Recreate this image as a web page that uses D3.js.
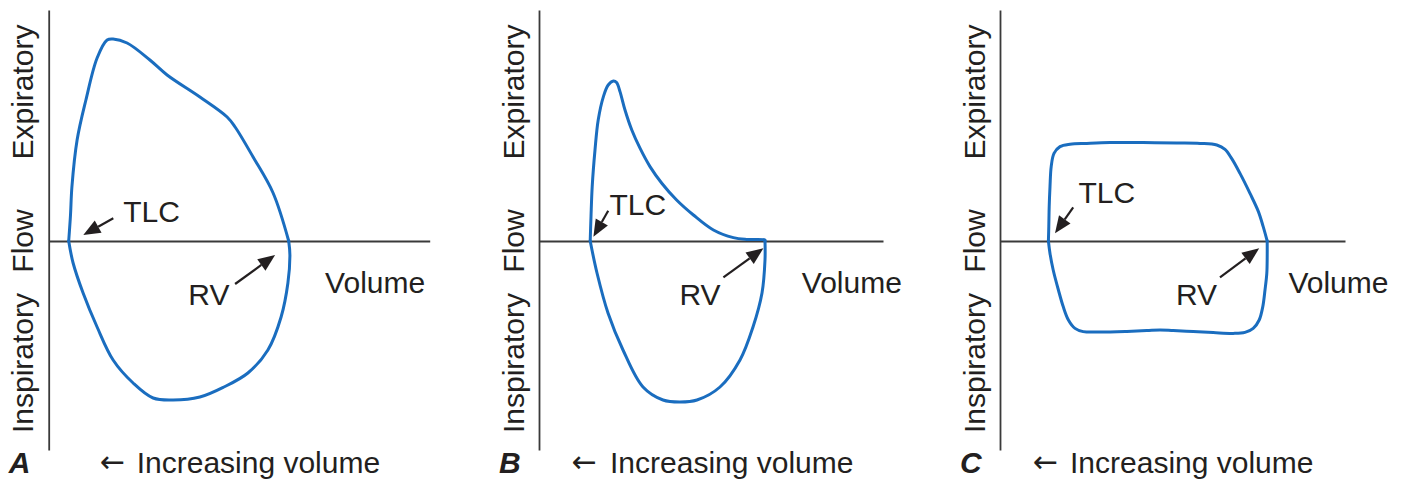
<!DOCTYPE html>
<html>
<head>
<meta charset="utf-8">
<script src="https://cdn.jsdelivr.net/npm/d3@7"></script>
<style>
  html, body { margin: 0; padding: 0; background: #ffffff; }
  svg { display: block; font-family: "Liberation Sans", Arial, Helvetica, sans-serif; }
</style>
</head>
<body>
<svg id="chart" width="1403" height="479"></svg>
<script>
// Flow–volume loops. Volume in litres (drawn increasing to the left),
// flow in L/s (expiratory positive, inspiratory negative).

const panelLetters = ["A", "B", "C"];

// A: normal loop
const expiratoryA = [
  [9.5, 0], [9.455, 1.3], [9.42, 2.7], [9.29, 5.05], [9.07, 7.05], [8.79, 9.15],
  [8.54, 10.05], [8.39, 10.1], [8.04, 9.9], [7.47, 9.05], [7.04, 8.3], [6.22, 7.2],
  [5.54, 6.2], [5.34, 5.7], [4.89, 4.2], [4.39, 2.4], [4.0, 0]
];
const inspiratoryA = [
  [4.0, 0], [3.97, -0.7], [4.02, -2.1], [4.19, -3.8], [4.52, -5.45], [5.02, -6.6],
  [5.62, -7.3], [6.22, -7.8], [6.89, -7.95], [7.39, -7.85], [7.89, -7.1], [8.39, -5.95],
  [8.79, -4.3], [9.14, -2.6], [9.39, -1.1], [9.5, 0]
];

// B: obstructive loop (scooped expiratory limb)
const expiratoryB = [
  [8.72, 0], [8.70, 1.22], [8.67, 2.72], [8.60, 4.55], [8.52, 6.05], [8.39, 7.22],
  [8.27, 7.8], [8.14, 8.0], [8.06, 7.92], [7.975, 7.47], [7.85, 6.55], [7.68, 5.55],
  [7.475, 4.64], [7.225, 3.72], [6.93, 2.89], [6.56, 2.05], [6.14, 1.3], [5.64, 0.55],
  [5.14, 0.17], [4.81, 0.08], [4.35, 0.05], [4.35, 0]
];
const inspiratoryB = [
  [4.35, 0], [4.35, -0.95], [4.425, -2.6], [4.65, -4.3], [4.975, -5.95], [5.475, -7.3],
  [6.05, -7.95], [6.475, -8.05], [6.9, -7.95], [7.4, -7.3], [7.9, -5.45], [8.275, -3.6],
  [8.55, -1.6], [8.72, 0]
];

// C: fixed upper-airway obstruction (flattened limbs)
const expiratoryC = [
  [8.79, 0], [8.78, 0.72], [8.77, 1.72], [8.75, 2.72], [8.72, 3.72], [8.65, 4.38],
  [8.5, 4.72], [8.25, 4.84], [7.83, 4.88], [7.25, 4.92], [6.42, 4.92], [5.58, 4.9],
  [5.0, 4.88], [4.58, 4.8], [4.375, 4.58], [4.21, 4.13], [4.0, 3.38], [3.75, 2.38],
  [3.54, 1.47], [3.42, 0.72], [3.32, 0]
];
const inspiratoryC = [
  [3.32, 0], [3.32, -0.78], [3.33, -1.62], [3.375, -2.45], [3.43, -3.28], [3.52, -3.95],
  [3.67, -4.37], [3.875, -4.57], [4.17, -4.62], [4.67, -4.58], [5.17, -4.53], [5.67, -4.48],
  [6.0, -4.45], [6.33, -4.48], [6.83, -4.52], [7.5, -4.55], [7.92, -4.53], [8.125, -4.37],
  [8.29, -3.95], [8.42, -3.28], [8.54, -2.45], [8.67, -1.45], [8.75, -0.62], [8.79, 0]
];

// Annotation anchors in data units: label position, arrow tail, arrow tip
const tlcNotes = [
  { text: [8.135, 0.965], tail: [8.385, 1.135], tip: [9.135, 0.3] },
  { text: [8.24, 1.3],    tail: [8.27, 1.515],  tip: [8.64, 0.215] },
  { text: [8.04, 1.885],  tail: [8.17, 1.685],  tip: [8.625, 0.385] }
];
const rvNotes = [
  { text: [6.51, -3.2], tail: [5.34, -2.15],  tip: [4.34, -0.7] },
  { text: [6.49, -3.2], tail: [5.39, -1.815], tip: [4.39, -0.365] },
  { text: [5.6, -3.2],  tail: [4.5, -1.815],  tip: [3.52, -0.365] }
];
const volumeLabelAt = [[3.09, -2.6], [3.43, -2.6], [2.79, -2.6]];
const flowLabels = [
  { text: "Expiratory", flow: 7.45 },
  { text: "Flow", flow: 0 },
  { text: "Inspiratory", flow: -6.1 }
];
const captionArrow = "\u2190";
const captionText = "Increasing volume";
const captionArrowAt = [8.72, 9.18, 9.175];
const captionTextAt = [7.8, 8.225, 8.25];

const loops = [
  { exp: expiratoryA, insp: inspiratoryA },
  { exp: expiratoryB, insp: inspiratoryB },
  { exp: expiratoryC, insp: inspiratoryC }
];

// Layout
const panelBoxes = [
  { x0: 48.7, width: 381 },
  { x0: 539, width: 344 },
  { x0: 1000, width: 345 }
];
const pxPerLitre = 40;
const volumeOrigin = 10;
const flowDomain = [-10.45, 11.55];
const plotTop = 10, plotBottom = 450;
const captionY = 473;

const loopColor = "#1a6dbf";
const inkColor = "#231f20";
const axisColor = "#3a3a3a";
const fontSize = 30;

const svg = d3.select("#chart");

const y = d3.scaleLinear().domain(flowDomain).range([plotBottom, plotTop]);

panelBoxes.forEach((box, i) => {
  const x = d3.scaleLinear()
    .domain([volumeOrigin, volumeOrigin - box.width / pxPerLitre])
    .range([box.x0, box.x0 + box.width]);

  const g = svg.append("g").attr("class", "panel panel-" + panelLetters[i]);

  // Axes: bare domain lines, no ticks
  const yAxis = g.append("g")
    .attr("transform", `translate(${box.x0},0)`)
    .call(d3.axisLeft(y).ticks(0).tickSizeOuter(0));
  const xAxis = g.append("g")
    .attr("transform", `translate(0,${y(0)})`)
    .call(d3.axisBottom(x).ticks(0).tickSizeOuter(0));
  [yAxis, xAxis].forEach(a => {
    a.select(".domain").attr("stroke", axisColor).attr("stroke-width", 1.8);
    a.selectAll(".tick").remove();
  });

  // Loop limbs
  const line = d3.line()
    .x(d => x(d[0]))
    .y(d => y(d[1]))
    .curve(d3.curveCatmullRom.alpha(0.5));

  [loops[i].exp, loops[i].insp].forEach(limb => {
    g.append("path")
      .datum(limb)
      .attr("d", line)
      .attr("fill", "none")
      .attr("stroke", loopColor)
      .attr("stroke-width", 3)
      .attr("stroke-linejoin", "round")
      .attr("stroke-linecap", "round");
  });

  // Arrows pointing to TLC and RV
  const drawArrow = (note) => {
    const [tx, ty] = [x(note.tail[0]), y(note.tail[1])];
    const [px, py] = [x(note.tip[0]), y(note.tip[1])];
    const ang = Math.atan2(py - ty, px - tx);
    const headLen = 17, headHalf = 7;
    const bx = px - headLen * Math.cos(ang), by = py - headLen * Math.sin(ang);
    g.append("line")
      .attr("x1", tx).attr("y1", ty).attr("x2", bx).attr("y2", by)
      .attr("stroke", inkColor).attr("stroke-width", 2.2);
    const nx = -Math.sin(ang), ny = Math.cos(ang);
    g.append("path")
      .attr("d", `M${px},${py}L${bx + nx * headHalf},${by + ny * headHalf}L${bx - nx * headHalf},${by - ny * headHalf}Z`)
      .attr("fill", inkColor);
  };
  drawArrow(tlcNotes[i]);
  drawArrow(rvNotes[i]);

  const label = (txt, vx, fy) => g.append("text")
    .attr("x", x(vx)).attr("y", y(fy))
    .attr("font-size", fontSize)
    .attr("fill", inkColor)
    .text(txt);

  label("TLC", tlcNotes[i].text[0], tlcNotes[i].text[1]);
  label("RV", rvNotes[i].text[0], rvNotes[i].text[1]);
  label("Volume", volumeLabelAt[i][0], volumeLabelAt[i][1]);

  // Rotated flow axis labels
  const lx = box.x0 - 15.5;
  flowLabels.forEach(fl => {
    g.append("text")
      .attr("x", lx).attr("y", y(fl.flow))
      .attr("transform", `rotate(-90,${lx},${y(fl.flow)})`)
      .attr("text-anchor", "middle")
      .attr("font-size", fontSize)
      .attr("fill", inkColor)
      .text(fl.text);
  });

  // Panel letter and caption
  g.append("text")
    .attr("x", box.x0 - 40).attr("y", captionY)
    .attr("font-size", fontSize)
    .attr("font-weight", "bold")
    .attr("font-style", "italic")
    .attr("fill", inkColor)
    .text(panelLetters[i]);

  g.append("text")
    .attr("x", x(captionArrowAt[i])).attr("y", captionY - 1)
    .attr("font-family", "'DejaVu Sans', sans-serif")
    .attr("font-size", fontSize)
    .attr("fill", inkColor)
    .text(captionArrow);

  g.append("text")
    .attr("x", x(captionTextAt[i])).attr("y", captionY)
    .attr("font-size", fontSize)
    .attr("fill", inkColor)
    .text(captionText);
});
</script>
</body>
</html>
